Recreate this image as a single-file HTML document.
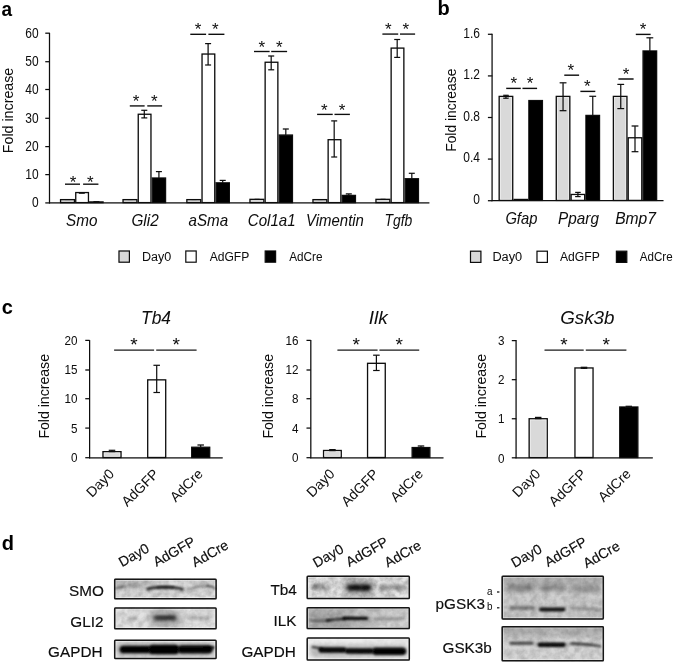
<!DOCTYPE html>
<html><head><meta charset="utf-8"><title>figure</title>
<style>
html,body{margin:0;padding:0;background:#fff;}
svg{display:block;font-family:"Liberation Sans",sans-serif;}
</style></head>
<body>
<svg width="675" height="663" viewBox="0 0 675 663">
<rect x="0" y="0" width="675" height="663" fill="#ffffff"/>
<defs><filter id="soft" x="0" y="0" width="675" height="663" filterUnits="userSpaceOnUse"><feGaussianBlur stdDeviation="0.33"/></filter></defs>
<g filter="url(#soft)">
<text x="1.50" y="15.70" font-size="20" font-weight="bold" textLength="10.57" lengthAdjust="spacingAndGlyphs" fill="#000">a</text>
<line x1="49.50" y1="32.80" x2="49.50" y2="203.40" stroke="#0a0a0a" stroke-width="1.25"/>
<line x1="49.00" y1="202.90" x2="429.40" y2="202.90" stroke="#0a0a0a" stroke-width="1.25"/>
<line x1="45.30" y1="202.90" x2="49.50" y2="202.90" stroke="#0a0a0a" stroke-width="1.25"/>
<text x="38.60" y="207.30" font-size="14" text-anchor="end" textLength="6.66" lengthAdjust="spacingAndGlyphs" fill="#0a0a0a">0</text>
<line x1="45.30" y1="174.60" x2="49.50" y2="174.60" stroke="#0a0a0a" stroke-width="1.25"/>
<text x="38.60" y="179.00" font-size="14" text-anchor="end" textLength="13.31" lengthAdjust="spacingAndGlyphs" fill="#0a0a0a">10</text>
<line x1="45.30" y1="146.60" x2="49.50" y2="146.60" stroke="#0a0a0a" stroke-width="1.25"/>
<text x="38.60" y="151.00" font-size="14" text-anchor="end" textLength="13.31" lengthAdjust="spacingAndGlyphs" fill="#0a0a0a">20</text>
<line x1="45.30" y1="118.30" x2="49.50" y2="118.30" stroke="#0a0a0a" stroke-width="1.25"/>
<text x="38.60" y="122.70" font-size="14" text-anchor="end" textLength="13.31" lengthAdjust="spacingAndGlyphs" fill="#0a0a0a">30</text>
<line x1="45.30" y1="89.50" x2="49.50" y2="89.50" stroke="#0a0a0a" stroke-width="1.25"/>
<text x="38.60" y="93.90" font-size="14" text-anchor="end" textLength="13.31" lengthAdjust="spacingAndGlyphs" fill="#0a0a0a">40</text>
<line x1="45.30" y1="61.70" x2="49.50" y2="61.70" stroke="#0a0a0a" stroke-width="1.25"/>
<text x="38.60" y="66.10" font-size="14" text-anchor="end" textLength="13.31" lengthAdjust="spacingAndGlyphs" fill="#0a0a0a">50</text>
<line x1="45.30" y1="33.20" x2="49.50" y2="33.20" stroke="#0a0a0a" stroke-width="1.25"/>
<text x="38.60" y="37.60" font-size="14" text-anchor="end" textLength="13.31" lengthAdjust="spacingAndGlyphs" fill="#0a0a0a">60</text>
<text x="12.60" y="153.20" font-size="14" transform="rotate(-90 12.60 153.20)" textLength="85.50" lengthAdjust="spacingAndGlyphs" fill="#0a0a0a">Fold increase</text>
<rect x="60.55" y="199.62" width="13.90" height="2.98" fill="#d9d9d9" stroke="#0a0a0a" stroke-width="1.3"/>
<rect x="75.75" y="192.56" width="12.70" height="10.04" fill="#ffffff" stroke="#0a0a0a" stroke-width="1.3"/>
<rect x="89.75" y="201.91" width="13.30" height="0.69" fill="#000000" stroke="#0a0a0a" stroke-width="1.3"/>
<line x1="65.20" y1="199.57" x2="70.20" y2="199.57" stroke="#0a0a0a" stroke-width="1.0"/>
<line x1="78.80" y1="193.31" x2="84.80" y2="193.31" stroke="#0a0a0a" stroke-width="1.0"/>
<line x1="93.40" y1="201.61" x2="99.40" y2="201.61" stroke="#0a0a0a" stroke-width="1.0"/>
<line x1="65.00" y1="184.20" x2="80.00" y2="184.20" stroke="#0a0a0a" stroke-width="1.35"/>
<line x1="83.10" y1="184.20" x2="98.40" y2="184.20" stroke="#0a0a0a" stroke-width="1.35"/>
<text x="73.10" y="187.74" font-size="17" text-anchor="middle" fill="#0a0a0a">*</text>
<text x="90.30" y="187.74" font-size="17" text-anchor="middle" fill="#0a0a0a">*</text>
<text x="81.76" y="226.00" font-size="17" text-anchor="middle" font-style="italic" textLength="31.40" lengthAdjust="spacingAndGlyphs" fill="#0a0a0a">Smo</text>
<rect x="123.05" y="199.62" width="13.90" height="2.98" fill="#d9d9d9" stroke="#0a0a0a" stroke-width="1.3"/>
<rect x="138.25" y="114.26" width="12.70" height="88.34" fill="#ffffff" stroke="#0a0a0a" stroke-width="1.3"/>
<rect x="152.25" y="178.03" width="13.30" height="24.57" fill="#000000" stroke="#0a0a0a" stroke-width="1.3"/>
<line x1="127.70" y1="199.57" x2="132.70" y2="199.57" stroke="#0a0a0a" stroke-width="1.0"/>
<line x1="144.30" y1="110.30" x2="144.30" y2="117.90" stroke="#0a0a0a" stroke-width="1.2"/>
<line x1="141.30" y1="110.30" x2="147.30" y2="110.30" stroke="#0a0a0a" stroke-width="1.2"/>
<line x1="141.30" y1="117.90" x2="147.30" y2="117.90" stroke="#0a0a0a" stroke-width="1.2"/>
<line x1="158.90" y1="171.60" x2="158.90" y2="178.03" stroke="#0a0a0a" stroke-width="1.2"/>
<line x1="155.90" y1="171.60" x2="161.90" y2="171.60" stroke="#0a0a0a" stroke-width="1.2"/>
<line x1="129.80" y1="105.90" x2="144.60" y2="105.90" stroke="#0a0a0a" stroke-width="1.35"/>
<line x1="147.30" y1="105.90" x2="162.10" y2="105.90" stroke="#0a0a0a" stroke-width="1.35"/>
<text x="136.10" y="106.64" font-size="17" text-anchor="middle" fill="#0a0a0a">*</text>
<text x="154.20" y="106.64" font-size="17" text-anchor="middle" fill="#0a0a0a">*</text>
<text x="145.07" y="226.00" font-size="17" text-anchor="middle" font-style="italic" textLength="27.20" lengthAdjust="spacingAndGlyphs" fill="#0a0a0a">Gli2</text>
<rect x="186.85" y="199.62" width="13.90" height="2.98" fill="#d9d9d9" stroke="#0a0a0a" stroke-width="1.3"/>
<rect x="202.05" y="54.05" width="12.70" height="148.55" fill="#ffffff" stroke="#0a0a0a" stroke-width="1.3"/>
<rect x="216.05" y="182.83" width="13.30" height="19.77" fill="#000000" stroke="#0a0a0a" stroke-width="1.3"/>
<line x1="191.50" y1="199.57" x2="196.50" y2="199.57" stroke="#0a0a0a" stroke-width="1.0"/>
<line x1="208.10" y1="43.60" x2="208.10" y2="65.00" stroke="#0a0a0a" stroke-width="1.2"/>
<line x1="205.10" y1="43.60" x2="211.10" y2="43.60" stroke="#0a0a0a" stroke-width="1.2"/>
<line x1="205.10" y1="65.00" x2="211.10" y2="65.00" stroke="#0a0a0a" stroke-width="1.2"/>
<line x1="222.70" y1="180.40" x2="222.70" y2="182.83" stroke="#0a0a0a" stroke-width="1.2"/>
<line x1="219.70" y1="180.40" x2="225.70" y2="180.40" stroke="#0a0a0a" stroke-width="1.2"/>
<line x1="190.30" y1="34.30" x2="206.10" y2="34.30" stroke="#0a0a0a" stroke-width="1.35"/>
<line x1="208.40" y1="34.30" x2="224.40" y2="34.30" stroke="#0a0a0a" stroke-width="1.35"/>
<text x="198.00" y="35.34" font-size="17" text-anchor="middle" fill="#0a0a0a">*</text>
<text x="215.20" y="35.34" font-size="17" text-anchor="middle" fill="#0a0a0a">*</text>
<text x="208.39" y="226.00" font-size="17" text-anchor="middle" font-style="italic" textLength="39.60" lengthAdjust="spacingAndGlyphs" fill="#0a0a0a">aSma</text>
<rect x="249.95" y="199.34" width="13.90" height="3.26" fill="#d9d9d9" stroke="#0a0a0a" stroke-width="1.3"/>
<rect x="265.15" y="62.25" width="12.70" height="140.35" fill="#ffffff" stroke="#0a0a0a" stroke-width="1.3"/>
<rect x="279.15" y="135.06" width="13.30" height="67.54" fill="#000000" stroke="#0a0a0a" stroke-width="1.3"/>
<line x1="254.60" y1="199.29" x2="259.60" y2="199.29" stroke="#0a0a0a" stroke-width="1.0"/>
<line x1="271.20" y1="56.00" x2="271.20" y2="69.80" stroke="#0a0a0a" stroke-width="1.2"/>
<line x1="268.20" y1="56.00" x2="274.20" y2="56.00" stroke="#0a0a0a" stroke-width="1.2"/>
<line x1="268.20" y1="69.80" x2="274.20" y2="69.80" stroke="#0a0a0a" stroke-width="1.2"/>
<line x1="285.80" y1="129.00" x2="285.80" y2="135.06" stroke="#0a0a0a" stroke-width="1.2"/>
<line x1="282.80" y1="129.00" x2="288.80" y2="129.00" stroke="#0a0a0a" stroke-width="1.2"/>
<line x1="254.00" y1="51.50" x2="269.60" y2="51.50" stroke="#0a0a0a" stroke-width="1.35"/>
<line x1="271.20" y1="51.50" x2="287.10" y2="51.50" stroke="#0a0a0a" stroke-width="1.35"/>
<text x="261.70" y="52.54" font-size="17" text-anchor="middle" fill="#0a0a0a">*</text>
<text x="279.20" y="52.54" font-size="17" text-anchor="middle" fill="#0a0a0a">*</text>
<text x="271.71" y="226.00" font-size="17" text-anchor="middle" font-style="italic" textLength="47.80" lengthAdjust="spacingAndGlyphs" fill="#0a0a0a">Col1a1</text>
<rect x="312.95" y="199.62" width="13.90" height="2.98" fill="#d9d9d9" stroke="#0a0a0a" stroke-width="1.3"/>
<rect x="328.15" y="139.70" width="12.70" height="62.90" fill="#ffffff" stroke="#0a0a0a" stroke-width="1.3"/>
<rect x="342.15" y="195.41" width="13.30" height="7.19" fill="#000000" stroke="#0a0a0a" stroke-width="1.3"/>
<line x1="317.60" y1="199.57" x2="322.60" y2="199.57" stroke="#0a0a0a" stroke-width="1.0"/>
<line x1="334.20" y1="120.90" x2="334.20" y2="157.00" stroke="#0a0a0a" stroke-width="1.2"/>
<line x1="331.20" y1="120.90" x2="337.20" y2="120.90" stroke="#0a0a0a" stroke-width="1.2"/>
<line x1="331.20" y1="157.00" x2="337.20" y2="157.00" stroke="#0a0a0a" stroke-width="1.2"/>
<line x1="348.80" y1="193.90" x2="348.80" y2="195.41" stroke="#0a0a0a" stroke-width="1.2"/>
<line x1="345.80" y1="193.90" x2="351.80" y2="193.90" stroke="#0a0a0a" stroke-width="1.2"/>
<line x1="317.10" y1="114.40" x2="332.70" y2="114.40" stroke="#0a0a0a" stroke-width="1.35"/>
<line x1="334.50" y1="114.40" x2="349.90" y2="114.40" stroke="#0a0a0a" stroke-width="1.35"/>
<text x="324.40" y="115.84" font-size="17" text-anchor="middle" fill="#0a0a0a">*</text>
<text x="342.00" y="115.84" font-size="17" text-anchor="middle" fill="#0a0a0a">*</text>
<text x="335.02" y="226.00" font-size="17" text-anchor="middle" font-style="italic" textLength="57.80" lengthAdjust="spacingAndGlyphs" fill="#0a0a0a">Vimentin</text>
<rect x="375.95" y="199.34" width="13.90" height="3.26" fill="#d9d9d9" stroke="#0a0a0a" stroke-width="1.3"/>
<rect x="391.15" y="48.11" width="12.70" height="154.49" fill="#ffffff" stroke="#0a0a0a" stroke-width="1.3"/>
<rect x="405.15" y="178.73" width="13.30" height="23.87" fill="#000000" stroke="#0a0a0a" stroke-width="1.3"/>
<line x1="380.60" y1="199.29" x2="385.60" y2="199.29" stroke="#0a0a0a" stroke-width="1.0"/>
<line x1="397.20" y1="39.50" x2="397.20" y2="57.40" stroke="#0a0a0a" stroke-width="1.2"/>
<line x1="394.20" y1="39.50" x2="400.20" y2="39.50" stroke="#0a0a0a" stroke-width="1.2"/>
<line x1="394.20" y1="57.40" x2="400.20" y2="57.40" stroke="#0a0a0a" stroke-width="1.2"/>
<line x1="411.80" y1="173.30" x2="411.80" y2="178.73" stroke="#0a0a0a" stroke-width="1.2"/>
<line x1="408.80" y1="173.30" x2="414.80" y2="173.30" stroke="#0a0a0a" stroke-width="1.2"/>
<line x1="382.40" y1="34.10" x2="398.20" y2="34.10" stroke="#0a0a0a" stroke-width="1.35"/>
<line x1="400.00" y1="34.10" x2="415.10" y2="34.10" stroke="#0a0a0a" stroke-width="1.35"/>
<text x="388.40" y="35.24" font-size="17" text-anchor="middle" fill="#0a0a0a">*</text>
<text x="405.80" y="35.24" font-size="17" text-anchor="middle" fill="#0a0a0a">*</text>
<text x="398.34" y="226.00" font-size="17" text-anchor="middle" font-style="italic" textLength="27.80" lengthAdjust="spacingAndGlyphs" fill="#0a0a0a">Tgfb</text>
<rect x="119.00" y="251.00" width="10.4" height="11.2" fill="#d9d9d9" stroke="#0a0a0a" stroke-width="1.2"/>
<text x="142.00" y="260.90" font-size="12" textLength="29.30" lengthAdjust="spacingAndGlyphs" fill="#0a0a0a">Day0</text>
<rect x="185.80" y="251.00" width="10.4" height="11.2" fill="#ffffff" stroke="#0a0a0a" stroke-width="1.2"/>
<text x="209.70" y="260.90" font-size="12" textLength="39.60" lengthAdjust="spacingAndGlyphs" fill="#0a0a0a">AdGFP</text>
<rect x="265.20" y="251.00" width="10.4" height="11.2" fill="#000000" stroke="#0a0a0a" stroke-width="1.2"/>
<text x="289.20" y="260.90" font-size="12" textLength="33.40" lengthAdjust="spacingAndGlyphs" fill="#0a0a0a">AdCre</text>
<text x="437.40" y="15.40" font-size="20" font-weight="bold" fill="#000">b</text>
<line x1="492.10" y1="33.80" x2="492.10" y2="201.20" stroke="#0a0a0a" stroke-width="1.25"/>
<line x1="491.60" y1="200.70" x2="663.50" y2="200.70" stroke="#0a0a0a" stroke-width="1.25"/>
<line x1="487.90" y1="200.70" x2="492.10" y2="200.70" stroke="#0a0a0a" stroke-width="1.25"/>
<text x="480.00" y="203.90" font-size="14" text-anchor="end" textLength="6.66" lengthAdjust="spacingAndGlyphs" fill="#0a0a0a">0</text>
<line x1="487.90" y1="159.10" x2="492.10" y2="159.10" stroke="#0a0a0a" stroke-width="1.25"/>
<text x="480.00" y="162.30" font-size="14" text-anchor="end" textLength="16.64" lengthAdjust="spacingAndGlyphs" fill="#0a0a0a">0.4</text>
<line x1="487.90" y1="117.50" x2="492.10" y2="117.50" stroke="#0a0a0a" stroke-width="1.25"/>
<text x="480.00" y="120.70" font-size="14" text-anchor="end" textLength="16.64" lengthAdjust="spacingAndGlyphs" fill="#0a0a0a">0.8</text>
<line x1="487.90" y1="75.90" x2="492.10" y2="75.90" stroke="#0a0a0a" stroke-width="1.25"/>
<text x="480.00" y="79.10" font-size="14" text-anchor="end" textLength="16.64" lengthAdjust="spacingAndGlyphs" fill="#0a0a0a">1.2</text>
<line x1="487.90" y1="34.30" x2="492.10" y2="34.30" stroke="#0a0a0a" stroke-width="1.25"/>
<text x="480.00" y="37.50" font-size="14" text-anchor="end" textLength="16.64" lengthAdjust="spacingAndGlyphs" fill="#0a0a0a">1.6</text>
<text x="456.00" y="151.80" font-size="14" transform="rotate(-90 456.00 151.80)" textLength="83.20" lengthAdjust="spacingAndGlyphs" fill="#0a0a0a">Fold increase</text>
<rect x="499.17" y="96.39" width="13.55" height="104.01" fill="#d9d9d9" stroke="#0a0a0a" stroke-width="1.3"/>
<rect x="500.38" y="97.59" width="11.15" height="101.66" fill="none" stroke="#ffffff" stroke-opacity="0.55" stroke-width="0.8"/>
<rect x="514.02" y="199.45" width="13.55" height="0.95" fill="#ffffff" stroke="#0a0a0a" stroke-width="1.3"/>
<rect x="528.87" y="100.55" width="13.55" height="99.85" fill="#000000" stroke="#0a0a0a" stroke-width="1.3"/>
<text x="521.40" y="223.80" font-size="17" text-anchor="middle" font-style="italic" textLength="32.00" lengthAdjust="spacingAndGlyphs" fill="#0a0a0a">Gfap</text>
<rect x="556.27" y="96.39" width="13.55" height="104.01" fill="#d9d9d9" stroke="#0a0a0a" stroke-width="1.3"/>
<rect x="557.47" y="97.59" width="11.15" height="101.66" fill="none" stroke="#ffffff" stroke-opacity="0.55" stroke-width="0.8"/>
<rect x="571.12" y="194.46" width="13.55" height="5.94" fill="#ffffff" stroke="#0a0a0a" stroke-width="1.3"/>
<rect x="585.97" y="115.42" width="13.55" height="84.98" fill="#000000" stroke="#0a0a0a" stroke-width="1.3"/>
<text x="578.50" y="223.80" font-size="17" text-anchor="middle" font-style="italic" textLength="40.80" lengthAdjust="spacingAndGlyphs" fill="#0a0a0a">Pparg</text>
<rect x="613.38" y="96.39" width="13.55" height="104.01" fill="#d9d9d9" stroke="#0a0a0a" stroke-width="1.3"/>
<rect x="614.57" y="97.59" width="11.15" height="101.66" fill="none" stroke="#ffffff" stroke-opacity="0.55" stroke-width="0.8"/>
<rect x="628.23" y="137.78" width="13.55" height="62.62" fill="#ffffff" stroke="#0a0a0a" stroke-width="1.3"/>
<rect x="643.07" y="50.94" width="13.55" height="149.46" fill="#000000" stroke="#0a0a0a" stroke-width="1.3"/>
<text x="635.60" y="223.80" font-size="17" text-anchor="middle" font-style="italic" textLength="40.80" lengthAdjust="spacingAndGlyphs" fill="#0a0a0a">Bmp7</text>
<line x1="505.95" y1="95.30" x2="505.95" y2="98.20" stroke="#0a0a0a" stroke-width="1.2"/>
<line x1="503.20" y1="95.30" x2="508.70" y2="95.30" stroke="#0a0a0a" stroke-width="1.2"/>
<line x1="503.20" y1="98.20" x2="508.70" y2="98.20" stroke="#0a0a0a" stroke-width="1.2"/>
<line x1="563.05" y1="82.80" x2="563.05" y2="110.70" stroke="#0a0a0a" stroke-width="1.2"/>
<line x1="559.65" y1="82.80" x2="566.45" y2="82.80" stroke="#0a0a0a" stroke-width="1.2"/>
<line x1="559.65" y1="110.70" x2="566.45" y2="110.70" stroke="#0a0a0a" stroke-width="1.2"/>
<line x1="577.90" y1="192.40" x2="577.90" y2="196.60" stroke="#0a0a0a" stroke-width="1.2"/>
<line x1="575.15" y1="192.40" x2="580.65" y2="192.40" stroke="#0a0a0a" stroke-width="1.2"/>
<line x1="575.15" y1="196.60" x2="580.65" y2="196.60" stroke="#0a0a0a" stroke-width="1.2"/>
<line x1="592.75" y1="96.30" x2="592.75" y2="116.00" stroke="#0a0a0a" stroke-width="1.2"/>
<line x1="589.35" y1="96.30" x2="596.15" y2="96.30" stroke="#0a0a0a" stroke-width="1.2"/>
<line x1="620.75" y1="84.40" x2="620.75" y2="108.60" stroke="#0a0a0a" stroke-width="1.2"/>
<line x1="617.35" y1="84.40" x2="624.15" y2="84.40" stroke="#0a0a0a" stroke-width="1.2"/>
<line x1="617.35" y1="108.60" x2="624.15" y2="108.60" stroke="#0a0a0a" stroke-width="1.2"/>
<line x1="635.00" y1="126.00" x2="635.00" y2="151.70" stroke="#0a0a0a" stroke-width="1.2"/>
<line x1="631.60" y1="126.00" x2="638.40" y2="126.00" stroke="#0a0a0a" stroke-width="1.2"/>
<line x1="631.60" y1="151.70" x2="638.40" y2="151.70" stroke="#0a0a0a" stroke-width="1.2"/>
<line x1="649.85" y1="37.80" x2="649.85" y2="52.00" stroke="#0a0a0a" stroke-width="1.2"/>
<line x1="646.45" y1="37.80" x2="653.25" y2="37.80" stroke="#0a0a0a" stroke-width="1.2"/>
<line x1="506.20" y1="88.40" x2="520.80" y2="88.40" stroke="#0a0a0a" stroke-width="1.4"/>
<text x="513.70" y="88.94" font-size="17" text-anchor="middle" fill="#0a0a0a">*</text>
<line x1="522.50" y1="88.40" x2="537.10" y2="88.40" stroke="#0a0a0a" stroke-width="1.4"/>
<text x="530.00" y="88.94" font-size="17" text-anchor="middle" fill="#0a0a0a">*</text>
<line x1="564.30" y1="75.20" x2="579.10" y2="75.20" stroke="#0a0a0a" stroke-width="1.4"/>
<text x="570.90" y="75.74" font-size="17" text-anchor="middle" fill="#0a0a0a">*</text>
<line x1="580.40" y1="91.40" x2="595.30" y2="91.40" stroke="#0a0a0a" stroke-width="1.4"/>
<text x="587.30" y="91.94" font-size="17" text-anchor="middle" fill="#0a0a0a">*</text>
<line x1="618.40" y1="79.00" x2="633.60" y2="79.00" stroke="#0a0a0a" stroke-width="1.4"/>
<text x="626.10" y="79.54" font-size="17" text-anchor="middle" fill="#0a0a0a">*</text>
<line x1="635.80" y1="34.40" x2="650.60" y2="34.40" stroke="#0a0a0a" stroke-width="1.4"/>
<text x="643.10" y="34.94" font-size="17" text-anchor="middle" fill="#0a0a0a">*</text>
<rect x="470.50" y="251.20" width="10.4" height="11.2" fill="#d9d9d9" stroke="#0a0a0a" stroke-width="1.2"/>
<text x="492.40" y="261.10" font-size="12" textLength="29.80" lengthAdjust="spacingAndGlyphs" fill="#0a0a0a">Day0</text>
<rect x="537.00" y="251.20" width="10.4" height="11.2" fill="#ffffff" stroke="#0a0a0a" stroke-width="1.2"/>
<text x="560.00" y="261.10" font-size="12" textLength="39.80" lengthAdjust="spacingAndGlyphs" fill="#0a0a0a">AdGFP</text>
<rect x="616.40" y="251.20" width="10.4" height="11.2" fill="#000000" stroke="#0a0a0a" stroke-width="1.2"/>
<text x="639.80" y="261.10" font-size="12" textLength="32.80" lengthAdjust="spacingAndGlyphs" fill="#0a0a0a">AdCre</text>
<text x="1.80" y="313.50" font-size="20" font-weight="bold" fill="#000">c</text>
<line x1="89.60" y1="340.10" x2="89.60" y2="458.30" stroke="#0a0a0a" stroke-width="1.25"/>
<line x1="89.10" y1="457.80" x2="222.70" y2="457.80" stroke="#0a0a0a" stroke-width="1.25"/>
<line x1="85.30" y1="457.70" x2="89.60" y2="457.70" stroke="#0a0a0a" stroke-width="1.25"/>
<text x="77.40" y="462.40" font-size="13.5" text-anchor="end" textLength="6.49" lengthAdjust="spacingAndGlyphs" fill="#0a0a0a">0</text>
<line x1="85.30" y1="428.10" x2="89.60" y2="428.10" stroke="#0a0a0a" stroke-width="1.25"/>
<text x="77.40" y="433.00" font-size="13.5" text-anchor="end" textLength="6.49" lengthAdjust="spacingAndGlyphs" fill="#0a0a0a">5</text>
<line x1="85.30" y1="398.70" x2="89.60" y2="398.70" stroke="#0a0a0a" stroke-width="1.25"/>
<text x="77.40" y="403.30" font-size="13.5" text-anchor="end" textLength="12.99" lengthAdjust="spacingAndGlyphs" fill="#0a0a0a">10</text>
<line x1="85.30" y1="370.00" x2="89.60" y2="370.00" stroke="#0a0a0a" stroke-width="1.25"/>
<text x="77.40" y="373.70" font-size="13.5" text-anchor="end" textLength="12.99" lengthAdjust="spacingAndGlyphs" fill="#0a0a0a">15</text>
<line x1="85.30" y1="340.40" x2="89.60" y2="340.40" stroke="#0a0a0a" stroke-width="1.25"/>
<text x="77.40" y="345.00" font-size="13.5" text-anchor="end" textLength="12.99" lengthAdjust="spacingAndGlyphs" fill="#0a0a0a">20</text>
<text x="49.20" y="438.60" font-size="14" transform="rotate(-90 49.20 438.60)" textLength="84.60" lengthAdjust="spacingAndGlyphs" fill="#0a0a0a">Fold increase</text>
<text x="156.00" y="323.80" font-size="18.5" text-anchor="middle" font-style="italic" textLength="30.00" lengthAdjust="spacingAndGlyphs" fill="#0a0a0a">Tb4</text>
<rect x="103.00" y="451.65" width="18.00" height="5.85" fill="#d9d9d9" stroke="#0a0a0a" stroke-width="1.3"/>
<rect x="104.20" y="452.85" width="15.60" height="3.50" fill="none" stroke="#ffffff" stroke-opacity="0.55" stroke-width="0.8"/>
<line x1="112.00" y1="450.30" x2="112.00" y2="451.60" stroke="#0a0a0a" stroke-width="1.2"/>
<line x1="108.75" y1="450.30" x2="115.25" y2="450.30" stroke="#0a0a0a" stroke-width="1.2"/>
<line x1="108.75" y1="451.60" x2="115.25" y2="451.60" stroke="#0a0a0a" stroke-width="1.2"/>
<rect x="147.70" y="379.86" width="18.00" height="77.64" fill="#ffffff" stroke="#0a0a0a" stroke-width="1.3"/>
<line x1="156.70" y1="365.30" x2="156.70" y2="392.50" stroke="#0a0a0a" stroke-width="1.2"/>
<line x1="153.45" y1="365.30" x2="159.95" y2="365.30" stroke="#0a0a0a" stroke-width="1.2"/>
<line x1="153.45" y1="392.50" x2="159.95" y2="392.50" stroke="#0a0a0a" stroke-width="1.2"/>
<rect x="191.70" y="447.25" width="18.00" height="10.25" fill="#000000" stroke="#0a0a0a" stroke-width="1.3"/>
<line x1="200.70" y1="445.00" x2="200.70" y2="447.25" stroke="#0a0a0a" stroke-width="1.2"/>
<line x1="197.45" y1="445.00" x2="203.95" y2="445.00" stroke="#0a0a0a" stroke-width="1.2"/>
<line x1="114.10" y1="350.00" x2="154.10" y2="350.00" stroke="#1c1c1c" stroke-width="1.25"/>
<line x1="156.20" y1="350.00" x2="196.60" y2="350.00" stroke="#1c1c1c" stroke-width="1.25"/>
<text x="134.00" y="350.88" font-size="19" text-anchor="middle" fill="#0a0a0a">*</text>
<text x="176.10" y="350.88" font-size="19" text-anchor="middle" fill="#0a0a0a">*</text>
<text x="115.00" y="474.80" font-size="14" text-anchor="end" transform="rotate(-45 115.00 474.80)" fill="#0a0a0a">Day0</text>
<text x="159.70" y="474.80" font-size="14" text-anchor="end" transform="rotate(-45 159.70 474.80)" fill="#0a0a0a">AdGFP</text>
<text x="203.70" y="474.80" font-size="14" text-anchor="end" transform="rotate(-45 203.70 474.80)" fill="#0a0a0a">AdCre</text>
<line x1="310.80" y1="340.10" x2="310.80" y2="458.30" stroke="#0a0a0a" stroke-width="1.25"/>
<line x1="310.30" y1="457.80" x2="443.50" y2="457.80" stroke="#0a0a0a" stroke-width="1.25"/>
<line x1="306.50" y1="457.70" x2="310.80" y2="457.70" stroke="#0a0a0a" stroke-width="1.25"/>
<text x="298.50" y="462.40" font-size="13.5" text-anchor="end" textLength="6.49" lengthAdjust="spacingAndGlyphs" fill="#0a0a0a">0</text>
<line x1="306.50" y1="428.10" x2="310.80" y2="428.10" stroke="#0a0a0a" stroke-width="1.25"/>
<text x="298.50" y="433.00" font-size="13.5" text-anchor="end" textLength="6.49" lengthAdjust="spacingAndGlyphs" fill="#0a0a0a">4</text>
<line x1="306.50" y1="398.70" x2="310.80" y2="398.70" stroke="#0a0a0a" stroke-width="1.25"/>
<text x="298.50" y="403.30" font-size="13.5" text-anchor="end" textLength="6.49" lengthAdjust="spacingAndGlyphs" fill="#0a0a0a">8</text>
<line x1="306.50" y1="370.00" x2="310.80" y2="370.00" stroke="#0a0a0a" stroke-width="1.25"/>
<text x="298.50" y="373.70" font-size="13.5" text-anchor="end" textLength="12.99" lengthAdjust="spacingAndGlyphs" fill="#0a0a0a">12</text>
<line x1="306.50" y1="340.40" x2="310.80" y2="340.40" stroke="#0a0a0a" stroke-width="1.25"/>
<text x="298.50" y="345.00" font-size="13.5" text-anchor="end" textLength="12.99" lengthAdjust="spacingAndGlyphs" fill="#0a0a0a">16</text>
<text x="273.20" y="438.60" font-size="14" transform="rotate(-90 273.20 438.60)" textLength="84.60" lengthAdjust="spacingAndGlyphs" fill="#0a0a0a">Fold increase</text>
<text x="378.30" y="323.80" font-size="18.5" text-anchor="middle" font-style="italic" textLength="19.00" lengthAdjust="spacingAndGlyphs" fill="#0a0a0a">Ilk</text>
<rect x="323.55" y="450.48" width="17.70" height="7.02" fill="#d9d9d9" stroke="#0a0a0a" stroke-width="1.3"/>
<rect x="324.75" y="451.68" width="15.30" height="4.67" fill="none" stroke="#ffffff" stroke-opacity="0.55" stroke-width="0.8"/>
<line x1="332.40" y1="449.60" x2="332.40" y2="450.60" stroke="#0a0a0a" stroke-width="1.2"/>
<line x1="329.15" y1="449.60" x2="335.65" y2="449.60" stroke="#0a0a0a" stroke-width="1.2"/>
<line x1="329.15" y1="450.60" x2="335.65" y2="450.60" stroke="#0a0a0a" stroke-width="1.2"/>
<rect x="367.55" y="363.31" width="17.70" height="94.19" fill="#ffffff" stroke="#0a0a0a" stroke-width="1.3"/>
<line x1="376.40" y1="355.20" x2="376.40" y2="370.50" stroke="#0a0a0a" stroke-width="1.2"/>
<line x1="373.15" y1="355.20" x2="379.65" y2="355.20" stroke="#0a0a0a" stroke-width="1.2"/>
<line x1="373.15" y1="370.50" x2="379.65" y2="370.50" stroke="#0a0a0a" stroke-width="1.2"/>
<rect x="412.15" y="447.55" width="17.70" height="9.95" fill="#000000" stroke="#0a0a0a" stroke-width="1.3"/>
<line x1="421.00" y1="446.00" x2="421.00" y2="447.55" stroke="#0a0a0a" stroke-width="1.2"/>
<line x1="417.75" y1="446.00" x2="424.25" y2="446.00" stroke="#0a0a0a" stroke-width="1.2"/>
<line x1="337.40" y1="350.00" x2="377.60" y2="350.00" stroke="#1c1c1c" stroke-width="1.25"/>
<line x1="379.40" y1="350.00" x2="419.20" y2="350.00" stroke="#1c1c1c" stroke-width="1.25"/>
<text x="356.10" y="350.88" font-size="19" text-anchor="middle" fill="#0a0a0a">*</text>
<text x="399.10" y="350.88" font-size="19" text-anchor="middle" fill="#0a0a0a">*</text>
<text x="335.40" y="474.80" font-size="14" text-anchor="end" transform="rotate(-45 335.40 474.80)" fill="#0a0a0a">Day0</text>
<text x="379.40" y="474.80" font-size="14" text-anchor="end" transform="rotate(-45 379.40 474.80)" fill="#0a0a0a">AdGFP</text>
<text x="424.00" y="474.80" font-size="14" text-anchor="end" transform="rotate(-45 424.00 474.80)" fill="#0a0a0a">AdCre</text>
<line x1="516.10" y1="340.10" x2="516.10" y2="458.30" stroke="#0a0a0a" stroke-width="1.25"/>
<line x1="515.60" y1="457.80" x2="652.80" y2="457.80" stroke="#0a0a0a" stroke-width="1.25"/>
<line x1="511.80" y1="457.80" x2="516.10" y2="457.80" stroke="#0a0a0a" stroke-width="1.25"/>
<text x="504.60" y="462.50" font-size="13.5" text-anchor="end" textLength="6.49" lengthAdjust="spacingAndGlyphs" fill="#0a0a0a">0</text>
<line x1="511.80" y1="418.73" x2="516.10" y2="418.73" stroke="#0a0a0a" stroke-width="1.25"/>
<text x="504.60" y="423.43" font-size="13.5" text-anchor="end" textLength="6.49" lengthAdjust="spacingAndGlyphs" fill="#0a0a0a">1</text>
<line x1="511.80" y1="379.67" x2="516.10" y2="379.67" stroke="#0a0a0a" stroke-width="1.25"/>
<text x="504.60" y="384.37" font-size="13.5" text-anchor="end" textLength="6.49" lengthAdjust="spacingAndGlyphs" fill="#0a0a0a">2</text>
<line x1="511.80" y1="340.60" x2="516.10" y2="340.60" stroke="#0a0a0a" stroke-width="1.25"/>
<text x="504.60" y="345.30" font-size="13.5" text-anchor="end" textLength="6.49" lengthAdjust="spacingAndGlyphs" fill="#0a0a0a">3</text>
<text x="485.60" y="438.60" font-size="14" transform="rotate(-90 485.60 438.60)" textLength="84.60" lengthAdjust="spacingAndGlyphs" fill="#0a0a0a">Fold increase</text>
<text x="587.30" y="323.80" font-size="18.5" text-anchor="middle" font-style="italic" textLength="54.20" lengthAdjust="spacingAndGlyphs" fill="#0a0a0a">Gsk3b</text>
<rect x="529.15" y="418.73" width="18.10" height="38.77" fill="#d9d9d9" stroke="#0a0a0a" stroke-width="1.3"/>
<rect x="530.35" y="419.93" width="15.70" height="36.42" fill="none" stroke="#ffffff" stroke-opacity="0.55" stroke-width="0.8"/>
<line x1="538.20" y1="417.40" x2="538.20" y2="418.60" stroke="#0a0a0a" stroke-width="1.2"/>
<line x1="534.95" y1="417.40" x2="541.45" y2="417.40" stroke="#0a0a0a" stroke-width="1.2"/>
<line x1="534.95" y1="418.60" x2="541.45" y2="418.60" stroke="#0a0a0a" stroke-width="1.2"/>
<rect x="574.95" y="367.95" width="18.10" height="89.55" fill="#ffffff" stroke="#0a0a0a" stroke-width="1.3"/>
<line x1="584.00" y1="367.30" x2="584.00" y2="368.30" stroke="#0a0a0a" stroke-width="1.2"/>
<line x1="580.75" y1="367.30" x2="587.25" y2="367.30" stroke="#0a0a0a" stroke-width="1.2"/>
<line x1="580.75" y1="368.30" x2="587.25" y2="368.30" stroke="#0a0a0a" stroke-width="1.2"/>
<rect x="619.75" y="407.01" width="18.10" height="50.49" fill="#000000" stroke="#0a0a0a" stroke-width="1.3"/>
<line x1="628.80" y1="406.30" x2="628.80" y2="407.60" stroke="#0a0a0a" stroke-width="1.2"/>
<line x1="625.55" y1="406.30" x2="632.05" y2="406.30" stroke="#0a0a0a" stroke-width="1.2"/>
<line x1="625.55" y1="407.60" x2="632.05" y2="407.60" stroke="#0a0a0a" stroke-width="1.2"/>
<line x1="544.50" y1="350.00" x2="583.70" y2="350.00" stroke="#1c1c1c" stroke-width="1.25"/>
<line x1="585.80" y1="350.00" x2="626.40" y2="350.00" stroke="#1c1c1c" stroke-width="1.25"/>
<text x="564.00" y="350.88" font-size="19" text-anchor="middle" fill="#0a0a0a">*</text>
<text x="606.30" y="350.88" font-size="19" text-anchor="middle" fill="#0a0a0a">*</text>
<text x="541.20" y="474.80" font-size="14" text-anchor="end" transform="rotate(-45 541.20 474.80)" fill="#0a0a0a">Day0</text>
<text x="587.00" y="474.80" font-size="14" text-anchor="end" transform="rotate(-45 587.00 474.80)" fill="#0a0a0a">AdGFP</text>
<text x="631.80" y="474.80" font-size="14" text-anchor="end" transform="rotate(-45 631.80 474.80)" fill="#0a0a0a">AdCre</text>
<text x="1.70" y="549.70" font-size="20" font-weight="bold" fill="#000">d</text>
<defs>
<filter id="bl0" x="-50%" y="-300%" width="200%" height="700%"><feGaussianBlur stdDeviation="0.45"/></filter>
<filter id="bl1" x="-50%" y="-300%" width="200%" height="700%"><feGaussianBlur stdDeviation="0.8"/></filter>
<filter id="bl2" x="-50%" y="-300%" width="200%" height="700%"><feGaussianBlur stdDeviation="1.4"/></filter>
<filter id="bl3" x="-50%" y="-300%" width="200%" height="700%"><feGaussianBlur stdDeviation="2.2"/></filter>
<filter id="bl4" x="-50%" y="-300%" width="200%" height="700%"><feGaussianBlur stdDeviation="3.4"/></filter>
<filter id="nz" x="0" y="0" width="100%" height="100%" color-interpolation-filters="sRGB"><feTurbulence type="fractalNoise" baseFrequency="0.16" numOctaves="3" seed="11" result="n"/><feColorMatrix in="n" type="matrix" values="0 0 0 0 0  0 0 0 0 0  0 0 0 0 0  1.4 1.4 0 0 -1.0"/></filter>
</defs>
<clipPath id="cpa1"><rect x="114.0" y="578.6" width="102.8" height="20.8"/></clipPath>
<rect x="114.0" y="578.6" width="102.8" height="20.8" fill="#d6d6d6"/>
<g clip-path="url(#cpa1)">
<rect x="114.0" y="592.0" width="102.8" height="8" fill="#e6e6e6" opacity="0.45" filter="url(#bl2)"/>
<rect x="114.0" y="579" width="36" height="10" fill="#000" opacity="0.1" filter="url(#bl3)"/>
<ellipse cx="165" cy="586" rx="26" ry="4" fill="#ececec" opacity="0.35" filter="url(#bl3)"/>
<path d="M114,588.2 Q119,588.6 123.5,586.2" fill="none" stroke="#000" stroke-width="1.8" stroke-linecap="round" opacity="0.55" filter="url(#bl1)"/>
<path d="M123.5,586.2 Q130,584.5 140,586.0" fill="none" stroke="#000" stroke-width="1.8" stroke-linecap="round" opacity="0.22" filter="url(#bl2)"/>
<path d="M147.6,588.8 C152,587.7 158,587.25 165,587.15 S178,587.6 182.2,589.1" fill="none" stroke="#000" stroke-width="2.4" stroke-linecap="round" opacity="0.86" filter="url(#bl1)"/>
<rect x="156.0" y="586.10" width="18.00" height="2.2" rx="1.1" ry="1.1" fill="#000" opacity="0.5" filter="url(#bl1)"/>
<path d="M147.6,589.8 C152,588.7 158,588.3 165,588.2 S178,588.6 182.2,590.1" fill="none" stroke="#000" stroke-width="4.0" stroke-linecap="round" opacity="0.10" filter="url(#bl2)"/>
<path d="M188.0,589.0 Q198,586.0 208.0,586.2" fill="none" stroke="#000" stroke-width="1.8" stroke-linecap="round" opacity="0.34" filter="url(#bl1)"/>
<path d="M207.0,585.6 Q211,586.2 216.0,588.6" fill="none" stroke="#000" stroke-width="1.9" stroke-linecap="round" opacity="0.55" filter="url(#bl1)"/>
<rect x="150" y="593.80" width="30.00" height="1.6" rx="0.8" ry="0.8" fill="#000" opacity="0.1" filter="url(#bl2)"/>
<rect x="114.0" y="578.6" width="102.8" height="20.8" filter="url(#nz)" opacity="0.16"/>
<rect x="115.8" y="580.4" width="99.2" height="17.2" fill="none" stroke="#ffffff" stroke-opacity="0.45" stroke-width="0.9"/>
</g>
<rect x="114.7" y="579.3000000000001" width="101.39999999999999" height="19.400000000000002" fill="none" stroke="#161616" stroke-width="1.5" rx="0.8"/>
<clipPath id="cpa2"><rect x="114.0" y="607.3" width="102.8" height="22.2"/></clipPath>
<rect x="114.0" y="607.3" width="102.8" height="22.2" fill="#e2e2e2"/>
<g clip-path="url(#cpa2)">
<rect x="150" y="607" width="30" height="23" fill="#000" opacity="0.1" filter="url(#bl4)"/>
<rect x="153.6" y="615.20" width="23.00" height="5.2" rx="2.6" ry="2.6" fill="#000" opacity="0.58" filter="url(#bl2)"/>
<rect x="157.0" y="616.10" width="17.00" height="3.0" rx="1.5" ry="1.5" fill="#000" opacity="0.3" filter="url(#bl1)"/>
<ellipse cx="165.0" cy="618.0" rx="17" ry="8.0" fill="#000" opacity="0.14" filter="url(#bl3)"/>
<rect x="127.5" y="616.90" width="10.00" height="3.0" rx="1.5" ry="1.5" fill="#000" opacity="0.24" filter="url(#bl2)"/>
<rect x="187.0" y="616.50" width="22.50" height="3.0" rx="1.5" ry="1.5" fill="#000" opacity="0.26" filter="url(#bl2)"/>
<rect x="114.0" y="607.3" width="102.8" height="22.2" filter="url(#nz)" opacity="0.13"/>
<rect x="115.8" y="609.0999999999999" width="99.2" height="18.599999999999998" fill="none" stroke="#ffffff" stroke-opacity="0.45" stroke-width="0.9"/>
</g>
<rect x="114.7" y="608.0" width="101.39999999999999" height="20.8" fill="none" stroke="#161616" stroke-width="1.5" rx="0.8"/>
<clipPath id="cpa3"><rect x="114.0" y="639.6" width="102.8" height="19.6"/></clipPath>
<rect x="114.0" y="639.6" width="102.8" height="19.6" fill="#e6e6e6"/>
<g clip-path="url(#cpa3)">
<rect x="116" y="642.50" width="99.00" height="14" rx="6" ry="6" fill="#000" opacity="0.22" filter="url(#bl3)"/>
<rect x="119.6" y="645.70" width="30.90" height="7.6" rx="3.8" ry="3.8" fill="#000" opacity="0.97" filter="url(#bl1)"/>
<rect x="148.0" y="644.80" width="31.50" height="9.4" rx="4.2" ry="4.2" fill="#000" opacity="0.98" filter="url(#bl1)"/>
<rect x="177.5" y="645.20" width="35.10" height="8.4" rx="4.2" ry="4.2" fill="#000" opacity="0.97" filter="url(#bl1)"/>
<path d="M205,648.5 Q210,648.0 213.5,647.4" fill="none" stroke="#000" stroke-width="3.0" stroke-linecap="round" opacity="0.8" filter="url(#bl1)"/>
<rect x="114.0" y="639.6" width="102.8" height="19.6" filter="url(#nz)" opacity="0.06"/>
<rect x="115.8" y="641.4" width="99.2" height="16.0" fill="none" stroke="#ffffff" stroke-opacity="0.45" stroke-width="0.9"/>
</g>
<rect x="114.7" y="640.3000000000001" width="101.39999999999999" height="18.200000000000003" fill="none" stroke="#161616" stroke-width="1.5" rx="0.8"/>
<text x="103.90" y="596.20" font-size="15.3" text-anchor="end" fill="#0a0a0a" stroke="#0a0a0a" stroke-width="0.14">SMO</text>
<text x="103.50" y="626.70" font-size="15.3" text-anchor="end" fill="#0a0a0a" stroke="#0a0a0a" stroke-width="0.14">GLI2</text>
<text x="102.50" y="656.80" font-size="15.3" text-anchor="end" fill="#0a0a0a" stroke="#0a0a0a" stroke-width="0.14">GAPDH</text>
<text x="121.90" y="567.30" font-size="14" transform="rotate(-29.5 121.90 567.30)" fill="#0a0a0a" stroke="#0a0a0a" stroke-width="0.14">Day0</text>
<text x="156.40" y="567.10" font-size="14" transform="rotate(-29.5 156.40 567.10)" fill="#0a0a0a" stroke="#0a0a0a" stroke-width="0.14">AdGFP</text>
<text x="195.00" y="567.50" font-size="14" transform="rotate(-29.5 195.00 567.50)" fill="#0a0a0a" stroke="#0a0a0a" stroke-width="0.14">AdCre</text>
<clipPath id="cpb1"><rect x="306.5" y="575.5" width="103.5" height="23.7"/></clipPath>
<rect x="306.5" y="575.5" width="103.5" height="23.7" fill="#e6e6e6"/>
<g clip-path="url(#cpb1)">
<ellipse cx="317.5" cy="586.4" rx="7.0" ry="2.6" fill="#000" opacity="0.34" filter="url(#bl2)"/>
<ellipse cx="326.0" cy="588.4" rx="4.5" ry="2.2" fill="#000" opacity="0.26" filter="url(#bl2)"/>
<rect x="345" y="575" width="28" height="25" fill="#000" opacity="0.1" filter="url(#bl4)"/>
<rect x="347.0" y="584.50" width="24.00" height="6.2" rx="3.1" ry="3.1" fill="#000" opacity="0.8" filter="url(#bl2)"/>
<rect x="351.5" y="586.30" width="8.50" height="3.2" rx="1.6" ry="1.6" fill="#000" opacity="0.45" filter="url(#bl1)"/>
<rect x="362.5" y="586.20" width="6.50" height="3.0" rx="1.5" ry="1.5" fill="#000" opacity="0.4" filter="url(#bl1)"/>
<ellipse cx="359.0" cy="587.6" rx="18" ry="8.0" fill="#000" opacity="0.16" filter="url(#bl3)"/>
<ellipse cx="384.0" cy="586.8" rx="5.5" ry="3.4" fill="#000" opacity="0.3" filter="url(#bl2)"/>
<ellipse cx="398.5" cy="587.4" rx="8.0" ry="3.4" fill="#000" opacity="0.3" filter="url(#bl2)"/>
<ellipse cx="384" cy="596" rx="6" ry="3" fill="#000" opacity="0.1" filter="url(#bl3)"/>
<rect x="306.5" y="575.5" width="103.5" height="23.7" filter="url(#nz)" opacity="0.22"/>
<rect x="308.3" y="577.3" width="99.9" height="20.099999999999998" fill="none" stroke="#ffffff" stroke-opacity="0.45" stroke-width="0.9"/>
</g>
<rect x="307.2" y="576.2" width="102.1" height="22.3" fill="none" stroke="#161616" stroke-width="1.5" rx="0.8"/>
<clipPath id="cpb2"><rect x="306.5" y="607.0" width="103.5" height="22.3"/></clipPath>
<rect x="306.5" y="607.0" width="103.5" height="22.3" fill="#c8c8c8"/>
<g clip-path="url(#cpb2)">
<rect x="380" y="607" width="30" height="23" fill="#e0e0e0" opacity="0.45" filter="url(#bl4)"/>
<rect x="306.5" y="607" width="45" height="23" fill="#000" opacity="0.1" filter="url(#bl4)"/>
<path d="M310,620.4 Q320,621.4 330,620.2" fill="none" stroke="#000" stroke-width="2.0" stroke-linecap="round" opacity="0.46" filter="url(#bl1)"/>
<path d="M327,620.5 Q335,619.4 344,618.6" fill="none" stroke="#000" stroke-width="2.4" stroke-linecap="round" opacity="0.78" filter="url(#bl1)"/>
<rect x="342.5" y="616.80" width="25.70" height="3.2" rx="1.6" ry="1.6" fill="#000" opacity="0.92" filter="url(#bl1)"/>
<rect x="314" y="616.50" width="58.00" height="7.0" rx="3.5" ry="3.5" fill="#000" opacity="0.13" filter="url(#bl3)"/>
<rect x="374" y="617.40" width="30.00" height="2.8" rx="1.4" ry="1.4" fill="#000" opacity="0.3" filter="url(#bl2)"/>
<rect x="306.5" y="607.0" width="103.5" height="22.3" filter="url(#nz)" opacity="0.14"/>
<rect x="308.3" y="608.8" width="99.9" height="18.7" fill="none" stroke="#ffffff" stroke-opacity="0.45" stroke-width="0.9"/>
</g>
<rect x="307.2" y="607.7" width="102.1" height="20.900000000000002" fill="none" stroke="#161616" stroke-width="1.5" rx="0.8"/>
<clipPath id="cpb3"><rect x="306.5" y="637.4" width="103.5" height="23.3"/></clipPath>
<rect x="306.5" y="637.4" width="103.5" height="23.3" fill="#ececec"/>
<g clip-path="url(#cpb3)">
<rect x="310" y="645.00" width="98.00" height="12" rx="5" ry="5" fill="#000" opacity="0.2" filter="url(#bl3)"/>
<path d="M312.5,647.0 Q317,647.6 322,648.8" fill="none" stroke="#000" stroke-width="2.0" stroke-linecap="round" opacity="0.75" filter="url(#bl1)"/>
<rect x="318.5" y="647.20" width="28.00" height="5.6" rx="2.8" ry="2.8" fill="#000" opacity="0.96" filter="url(#bl1)"/>
<rect x="345.0" y="648.20" width="28.50" height="5.6" rx="2.8" ry="2.8" fill="#000" opacity="0.96" filter="url(#bl1)"/>
<rect x="372.0" y="647.40" width="34.20" height="7.6" rx="3.8" ry="3.8" fill="#000" opacity="0.97" filter="url(#bl1)"/>
<rect x="306.5" y="637.4" width="103.5" height="23.3" filter="url(#nz)" opacity="0.05"/>
<rect x="308.3" y="639.1999999999999" width="99.9" height="19.7" fill="none" stroke="#ffffff" stroke-opacity="0.45" stroke-width="0.9"/>
</g>
<rect x="307.2" y="638.1" width="102.1" height="21.900000000000002" fill="none" stroke="#161616" stroke-width="1.5" rx="0.8"/>
<text x="296.80" y="594.70" font-size="15.3" text-anchor="end" fill="#0a0a0a" stroke="#0a0a0a" stroke-width="0.14">Tb4</text>
<text x="296.40" y="625.80" font-size="15.3" text-anchor="end" fill="#0a0a0a" stroke="#0a0a0a" stroke-width="0.14">ILK</text>
<text x="295.80" y="656.80" font-size="15.3" text-anchor="end" fill="#0a0a0a" stroke="#0a0a0a" stroke-width="0.14">GAPDH</text>
<text x="316.30" y="568.00" font-size="14" transform="rotate(-29.5 316.30 568.00)" fill="#0a0a0a" stroke="#0a0a0a" stroke-width="0.14">Day0</text>
<text x="349.30" y="567.20" font-size="14" transform="rotate(-29.5 349.30 567.20)" fill="#0a0a0a" stroke="#0a0a0a" stroke-width="0.14">AdGFP</text>
<text x="387.80" y="567.80" font-size="14" transform="rotate(-29.5 387.80 567.80)" fill="#0a0a0a" stroke="#0a0a0a" stroke-width="0.14">AdCre</text>
<clipPath id="cpc1"><rect x="501.5" y="575.6" width="102.5" height="44.0"/></clipPath>
<rect x="501.5" y="575.6" width="102.5" height="44.0" fill="#cacaca"/>
<g clip-path="url(#cpc1)">
<rect x="501.5" y="576" width="102.5" height="10" fill="#000" opacity="0.1" filter="url(#bl3)"/>
<rect x="501.5" y="594" width="102.5" height="10" fill="#d6d6d6" opacity="0.35" filter="url(#bl3)"/>
<ellipse cx="552" cy="596" rx="10" ry="6" fill="#dcdcdc" opacity="0.3" filter="url(#bl3)"/>
<rect x="507.0" y="585.00" width="28.00" height="6.0" rx="3.0" ry="3.0" fill="#000" opacity="0.34" filter="url(#bl3)"/>
<rect x="540.0" y="584.80" width="25.00" height="6.0" rx="3.0" ry="3.0" fill="#000" opacity="0.3" filter="url(#bl3)"/>
<rect x="571.0" y="586.00" width="29.00" height="6.0" rx="3.0" ry="3.0" fill="#000" opacity="0.26" filter="url(#bl3)"/>
<rect x="509.5" y="606.60" width="25.50" height="2.8" rx="1.4" ry="1.4" fill="#000" opacity="0.5" filter="url(#bl2)"/>
<rect x="539.0" y="607.40" width="26.50" height="4.0" rx="2.0" ry="2.0" fill="#000" opacity="0.88" filter="url(#bl1)"/>
<path d="M571.5,608.0 Q585,608.6 600.0,610.0" fill="none" stroke="#000" stroke-width="2.4" stroke-linecap="round" opacity="0.36" filter="url(#bl2)"/>
<rect x="501.5" y="575.6" width="102.5" height="44.0" filter="url(#nz)" opacity="0.14"/>
<rect x="503.3" y="577.4" width="98.9" height="40.4" fill="none" stroke="#ffffff" stroke-opacity="0.45" stroke-width="0.9"/>
</g>
<rect x="502.2" y="576.3000000000001" width="101.1" height="42.6" fill="none" stroke="#161616" stroke-width="1.5" rx="0.8"/>
<clipPath id="cpc2"><rect x="501.5" y="626.0" width="102.5" height="35.4"/></clipPath>
<rect x="501.5" y="626.0" width="102.5" height="35.4" fill="#d6d6d6"/>
<g clip-path="url(#cpc2)">
<rect x="501.5" y="626" width="102.5" height="11" fill="#000" opacity="0.16" filter="url(#bl3)"/>
<ellipse cx="553" cy="634" rx="9" ry="5" fill="#e0e0e0" opacity="0.3" filter="url(#bl3)"/>
<rect x="509.5" y="641.80" width="24.00" height="2.8" rx="1.4" ry="1.4" fill="#000" opacity="0.62" filter="url(#bl1)"/>
<rect x="537.5" y="642.50" width="28.00" height="4.6" rx="2.3" ry="2.3" fill="#000" opacity="0.93" filter="url(#bl1)"/>
<path d="M571.5,643.4 Q585,644.2 600.0,646.0" fill="none" stroke="#000" stroke-width="2.6" stroke-linecap="round" opacity="0.6" filter="url(#bl1)"/>
<rect x="510.0" y="643.40" width="86.00" height="1.6" rx="0.8" ry="0.8" fill="#000" opacity="0.3" filter="url(#bl2)"/>
<rect x="501.5" y="626.0" width="102.5" height="35.4" filter="url(#nz)" opacity="0.14"/>
<rect x="503.3" y="627.8" width="98.9" height="31.799999999999997" fill="none" stroke="#ffffff" stroke-opacity="0.45" stroke-width="0.9"/>
</g>
<rect x="502.2" y="626.7" width="101.1" height="34.0" fill="none" stroke="#161616" stroke-width="1.5" rx="0.8"/>
<text x="435.60" y="609.00" font-size="15.3" fill="#0a0a0a" stroke="#0a0a0a" stroke-width="0.14">pGSK3</text>
<text x="489.80" y="594.70" font-size="11" text-anchor="middle" textLength="5.51" lengthAdjust="spacingAndGlyphs" fill="#0a0a0a">a</text>
<text x="489.80" y="610.30" font-size="11" text-anchor="middle" textLength="5.51" lengthAdjust="spacingAndGlyphs" fill="#0a0a0a">b</text>
<line x1="497.00" y1="592.00" x2="499.40" y2="592.00" stroke="#0a0a0a" stroke-width="1.2"/>
<line x1="497.00" y1="607.80" x2="499.40" y2="607.80" stroke="#0a0a0a" stroke-width="1.2"/>
<text x="442.50" y="653.00" font-size="15.3" fill="#0a0a0a" stroke="#0a0a0a" stroke-width="0.14">GSK3b</text>
<text x="514.50" y="568.00" font-size="14" transform="rotate(-29.5 514.50 568.00)" fill="#0a0a0a" stroke="#0a0a0a" stroke-width="0.14">Day0</text>
<text x="548.00" y="567.20" font-size="14" transform="rotate(-29.5 548.00 567.20)" fill="#0a0a0a" stroke="#0a0a0a" stroke-width="0.14">AdGFP</text>
<text x="586.40" y="568.50" font-size="14" transform="rotate(-29.5 586.40 568.50)" fill="#0a0a0a" stroke="#0a0a0a" stroke-width="0.14">AdCre</text>
</g>
</svg>
</body></html>
